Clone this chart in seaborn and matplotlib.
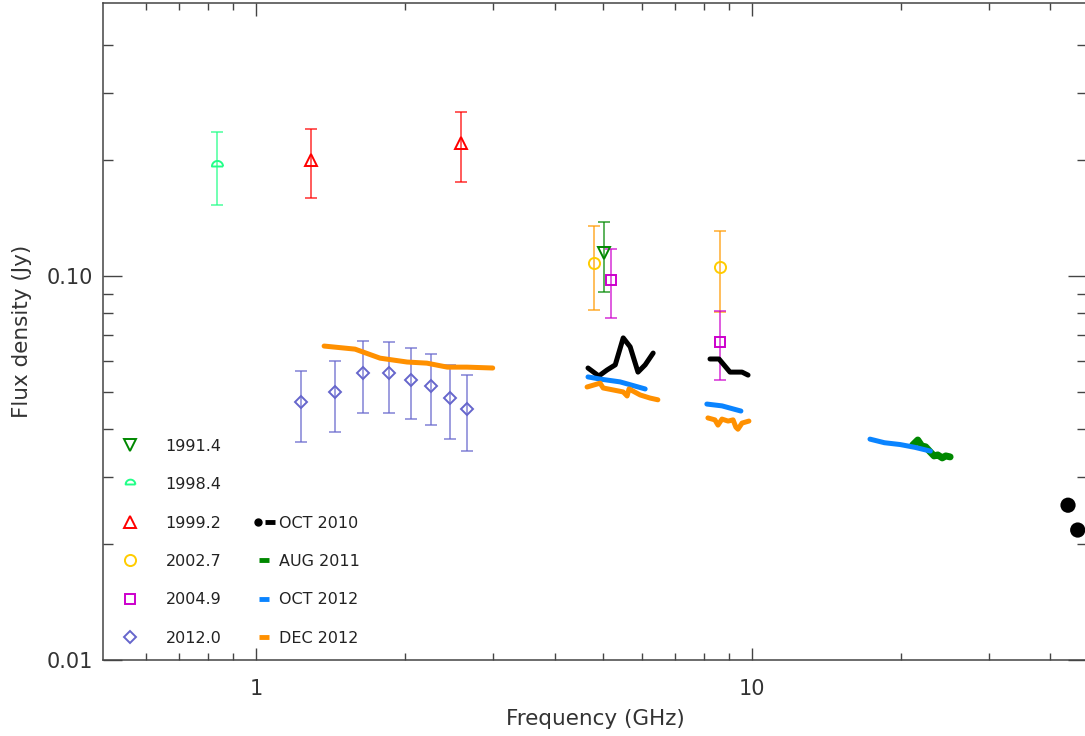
import numpy as np
import pandas as pd
import matplotlib
matplotlib.use("Agg")
import matplotlib.pyplot as plt
import seaborn as sns
from matplotlib.lines import Line2D
from matplotlib.legend_handler import HandlerTuple
from matplotlib.path import Path
from matplotlib.ticker import FixedLocator, FuncFormatter, NullFormatter

# ---- point measurements (GHz, Jy, lower, upper) ----
f_1991 = [5.03]
s_1991 = [0.115]
lo_1991 = [0.0908]
hi_1991 = [0.138]

f_1998 = [0.834]
s_1998 = [0.193]
lo_1998 = [0.153]
hi_1998 = [0.237]

f_1999 = [1.29, 2.59]
s_1999 = [0.200, 0.222]
lo_1999 = [0.160, 0.176]
hi_1999 = [0.241, 0.267]

f_2002 = [4.80, 8.62]
s_2002 = [0.108, 0.1055]
lo_2002 = [0.0815, 0.0806]
hi_2002 = [0.135, 0.131]

f_2004 = [5.20, 8.62]
s_2004 = [0.0976, 0.0673]
lo_2004 = [0.0778, 0.0536]
hi_2004 = [0.1176, 0.0811]

f_2012 = [1.23, 1.44, 1.64, 1.85, 2.05, 2.25, 2.46, 2.66]
s_2012 = [0.0470, 0.0499, 0.0559, 0.0559, 0.0536, 0.0517, 0.0481, 0.0451]
lo_2012 = [0.0370, 0.0393, 0.0440, 0.0440, 0.0424, 0.0409, 0.0376, 0.0350]
hi_2012 = [0.0566, 0.0601, 0.0677, 0.0673, 0.0649, 0.0626, 0.0586, 0.0552]

# ---- spectra (segments) ----
oct10_f = [4.67, 4.91, 5.10, 5.30, 5.50, 5.68, 5.89, 6.09, 6.32,
           8.23, 8.58, 9.03, 9.55, 9.82]
oct10_s = [0.0576, 0.0549, 0.0569, 0.0587, 0.0690, 0.0654, 0.0562, 0.0587, 0.0630,
           0.0608, 0.0608, 0.0562, 0.0562, 0.0552]
oct10_seg = [0] * 9 + [1] * 5
oct10_dot_f = [43.4, 45.4]
oct10_dot_s = [0.0253, 0.0218]

aug11_f = [21.1, 21.6, 22.0, 22.4, 22.9, 23.3, 23.7, 24.2, 24.6, 25.1]
aug11_s = [0.0363, 0.0374, 0.0361, 0.0359, 0.0348, 0.0340, 0.0342, 0.0336, 0.0340, 0.0338]

oct12_f = [4.67, 4.94, 5.42, 6.09,
           8.11, 8.70, 9.03, 9.50,
           17.3, 18.5, 19.9, 21.3, 22.9]
oct12_s = [0.0546, 0.0539, 0.0530, 0.0508,
           0.0464, 0.0459, 0.0453, 0.0445,
           0.0376, 0.0368, 0.0364, 0.0358, 0.0350]
oct12_seg = [0] * 4 + [1] * 4 + [2] * 5

dec12_f = [1.371, 1.583, 1.778, 2.016, 2.21, 2.43, 2.66, 3.00,
           4.65, 4.94, 5.01, 5.50, 5.60, 5.65, 5.95, 6.23, 6.46,
           8.15, 8.42, 8.54, 8.70, 8.95, 9.16, 9.28, 9.37, 9.55, 9.86]
dec12_s = [0.0657, 0.0645, 0.0611, 0.0597, 0.0593, 0.0579, 0.0579, 0.0576,
           0.0514, 0.0526, 0.0511, 0.0499, 0.0487, 0.0508, 0.0490, 0.0481, 0.0476,
           0.0427, 0.0422, 0.0409, 0.0424, 0.0419, 0.0422, 0.0404, 0.0399, 0.0414, 0.0419]
dec12_seg = [0] * 8 + [1] * 9 + [2] * 10

sns.set_style("ticks")
plt.rcParams['font.family'] = ['DejaVu Sans']

fig = plt.figure(figsize=(10.85, 7.36), dpi=100)
ax = fig.add_axes([103 / 1085, 76 / 736, 984 / 1085, 657 / 736])

# half-dome marker for 1998.4
th = np.linspace(0, np.pi, 25)
dome = Path(np.column_stack([np.cos(th), np.sin(th)]).tolist() + [[1.0, 0.0]])


def points(f, s, lo, hi, color, marker, ecolor, ms):
    s = np.array(s)
    err = [s - np.array(lo), np.array(hi) - s]
    ax.errorbar(f, s, yerr=err, fmt='none', ecolor=ecolor, elinewidth=1.2,
                capsize=4, capthick=1.2, alpha=0.75, zorder=2)
    ax.plot(f, s, ls='none', marker=marker, ms=ms, mfc='none', mec=color, mew=1.4, zorder=3)


points(f_1991, s_1991, lo_1991, hi_1991, '#008800', 'v', '#008800', 8.5)
points(f_1998, s_1998, lo_1998, hi_1998, '#22FF88', dome, '#22FF88', 8)
points(f_1999, s_1999, lo_1999, hi_1999, '#FF0000', '^', '#FF0000', 8.5)
points(f_2002, s_2002, lo_2002, hi_2002, '#FFCC00', 'o', '#FF9900', 8)
points(f_2004, s_2004, lo_2004, hi_2004, '#CC00CC', 's', '#CC00CC', 7)
points(f_2012, s_2012, lo_2012, hi_2012, '#6666CC', 'D', '#6666CC', 6)

df10 = pd.DataFrame({'f': oct10_f, 's': oct10_s, 'seg': oct10_seg})
df11 = pd.DataFrame({'f': aug11_f, 's': aug11_s, 'seg': 0})
dfo12 = pd.DataFrame({'f': oct12_f, 's': oct12_s, 'seg': oct12_seg})
dfd12 = pd.DataFrame({'f': dec12_f, 's': dec12_s, 'seg': dec12_seg})

sns.lineplot(data=df10, x='f', y='s', units='seg', estimator=None, sort=False,
             color='black', lw=3.6, ax=ax, zorder=4)
sns.lineplot(data=dfo12, x='f', y='s', units='seg', estimator=None, sort=False,
             color='#0A84FF', lw=3.6, ax=ax, zorder=5)
sns.lineplot(data=df11, x='f', y='s', units='seg', estimator=None, sort=False,
             color='#008800', lw=5, ax=ax, zorder=4)
sns.lineplot(data=dfd12, x='f', y='s', units='seg', estimator=None, sort=False,
             color='#FF9000', lw=3.6, ax=ax, zorder=5)
sns.scatterplot(x=oct10_dot_f, y=oct10_dot_s, color='black', s=120, ax=ax, zorder=6,
                edgecolor='none')

ax.set_xscale('log')
ax.set_yscale('log')
ax.set_xlim(0.491, 47.4)
ax.set_ylim(0.01, 0.514)

# axes styling
for sp in ax.spines.values():
    sp.set_color('#444444')
    sp.set_linewidth(1.1)
ax.xaxis.set_major_locator(FixedLocator([1, 10]))
ax.xaxis.set_minor_locator(FixedLocator([0.6, 0.7, 0.8, 0.9] + list(range(2, 10)) + list(range(20, 50, 10))))
ax.yaxis.set_major_locator(FixedLocator([0.01, 0.1]))
ax.yaxis.set_minor_locator(FixedLocator([0.02, 0.03, 0.04, 0.05, 0.06, 0.07, 0.08, 0.09, 0.2, 0.3, 0.4]))
ax.xaxis.set_major_formatter(FuncFormatter(lambda v, p: f"{v:g}"))
ax.yaxis.set_major_formatter(FuncFormatter(lambda v, p: f"{v:.2f}"))
ax.xaxis.set_minor_formatter(NullFormatter())
ax.yaxis.set_minor_formatter(NullFormatter())
ax.tick_params(axis='x', which='major', direction='in', length=9, width=1, color='#444444',
               top=True, bottom=True, pad=14, labelsize=15, labelcolor='#333333')
ax.tick_params(axis='x', which='minor', direction='in', length=5, width=1, color='#444444',
               top=True, bottom=True)
ax.tick_params(axis='y', which='major', direction='in', length=14, width=1, color='#444444',
               left=True, right=True, pad=7, labelsize=15, labelcolor='#333333')
ax.tick_params(axis='y', which='minor', direction='in', length=7, width=1, color='#444444',
               left=True, right=True)
ax.set_xlabel('Frequency (GHz)', fontsize=15.5, color='#333333', labelpad=7)
ax.set_ylabel('Flux density (Jy)', fontsize=15.5, color='#333333', labelpad=11)

# legends
h1 = [Line2D([], [], ls='none', marker='v', ms=8, mfc='none', mec='#008800', mew=1.4),
      Line2D([], [], ls='none', marker=dome, ms=7, mfc='none', mec='#22FF88', mew=1.4),
      Line2D([], [], ls='none', marker='^', ms=8, mfc='none', mec='#FF0000', mew=1.4),
      Line2D([], [], ls='none', marker='o', ms=8, mfc='none', mec='#FFCC00', mew=1.4),
      Line2D([], [], ls='none', marker='s', ms=7, mfc='none', mec='#CC00CC', mew=1.4),
      Line2D([], [], ls='none', marker='D', ms=6, mfc='none', mec='#6666CC', mew=1.4)]
l1 = ['1991.4', '1998.4', '1999.2', '2002.7', '2004.9', '2012.0']
leg1 = ax.legend(h1, l1, loc='lower left', bbox_to_anchor=(0.0198, 0.022), frameon=False,
                 borderpad=0, borderaxespad=0, handlelength=1.0, handletextpad=1.7,
                 labelspacing=1.46, fontsize=11.5)
for t in leg1.get_texts():
    t.set_color('#222222')
ax.add_artist(leg1)


def dash(c):
    return Line2D([], [], ls='none', marker='_', ms=7, mew=3.5, color=c)


dot = Line2D([], [], ls='none', marker='o', ms=5, color='black')
h2 = [(dot, dash('black')), dash('#008800'), dash('#0A84FF'), dash('#FF9000')]
l2 = ['OCT 2010', 'AUG 2011', 'OCT 2012', 'DEC 2012']
leg2 = ax.legend(h2, l2, loc='lower left', bbox_to_anchor=(0.1514, 0.022), frameon=False,
                 borderpad=0, borderaxespad=0, handlelength=1.5, handletextpad=0.2,
                 labelspacing=1.46, fontsize=11.5,
                 handler_map={tuple: HandlerTuple(ndivide=None, pad=0.1)})
for t in leg2.get_texts():
    t.set_color('#222222')

fig.savefig('out.png', dpi=100)
